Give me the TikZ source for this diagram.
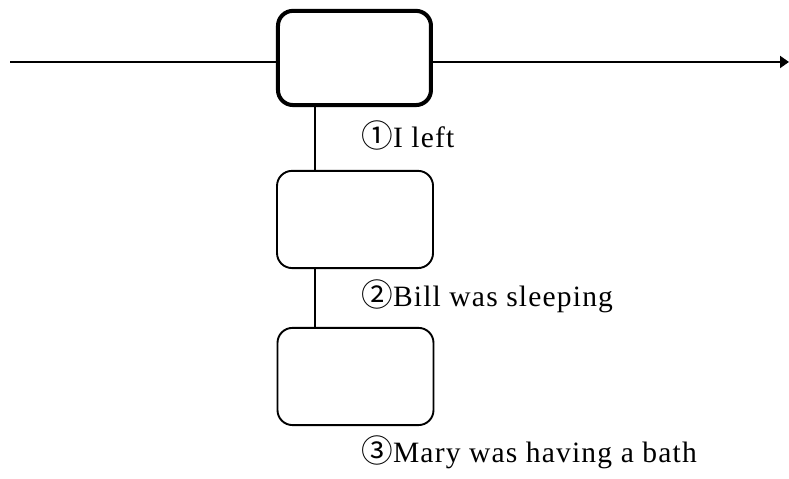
\documentclass[tikz,border=0pt]{standalone}
\usepackage{fontspec}
\setmainfont{Liberation Serif}[LetterSpace=4]
\newfontfamily\circfont{Noto Sans CJK JP}
\usepackage{tikz}
\usetikzlibrary{arrows.meta}
\tikzset{event/.style={draw,rounded corners=0.25cm,minimum width=2.6cm,minimum height=1.62cm,line width=0.9pt},
 main/.style={event,line width=1.9pt,minimum width=2.55cm,minimum height=1.57cm},
 timeline/.style={line width=0.95pt,-{Triangle[length=0.15cm,width=0.2cm]}},
 link/.style={line width=0.9pt},
 every node/.style={font=\fontsize{14}{16}\selectfont}}

\begin{document}
\begin{tikzpicture}
\useasboundingbox (0,0) rectangle (13.15,7.983);
\node[main] (left) at (5.908,7.017) {};
\node[event] (sleep) at (5.917,4.325) {};
\node[event] (bath) at (5.925,1.708) {};
\coordinate (past) at (0.167,6.95);
\coordinate (future) at (13.15,6.95);
\draw[link] (past) -- (past -| left.west);
\draw[timeline] (future -| left.east) -- (future);
\draw[link] (left.south -| 5.25,0) -- (sleep.north -| 5.25,0);
\draw[link] (sleep.south -| 5.25,0) -- (bath.north -| 5.25,0);
\node[anchor=base west] (l1) at (5.9,5.517) {{\circfont\fontsize{15}{16}\selectfont ①}I left};
\node[anchor=base west] (l2) at (5.9,2.867) {{\circfont\fontsize{15}{16}\selectfont ②}Bill was sleeping};
\node[anchor=base west] (l3) at (5.9,0.267) {{\circfont\fontsize{15}{16}\selectfont ③}Mary was having a bath};
\end{tikzpicture}
\end{document}
